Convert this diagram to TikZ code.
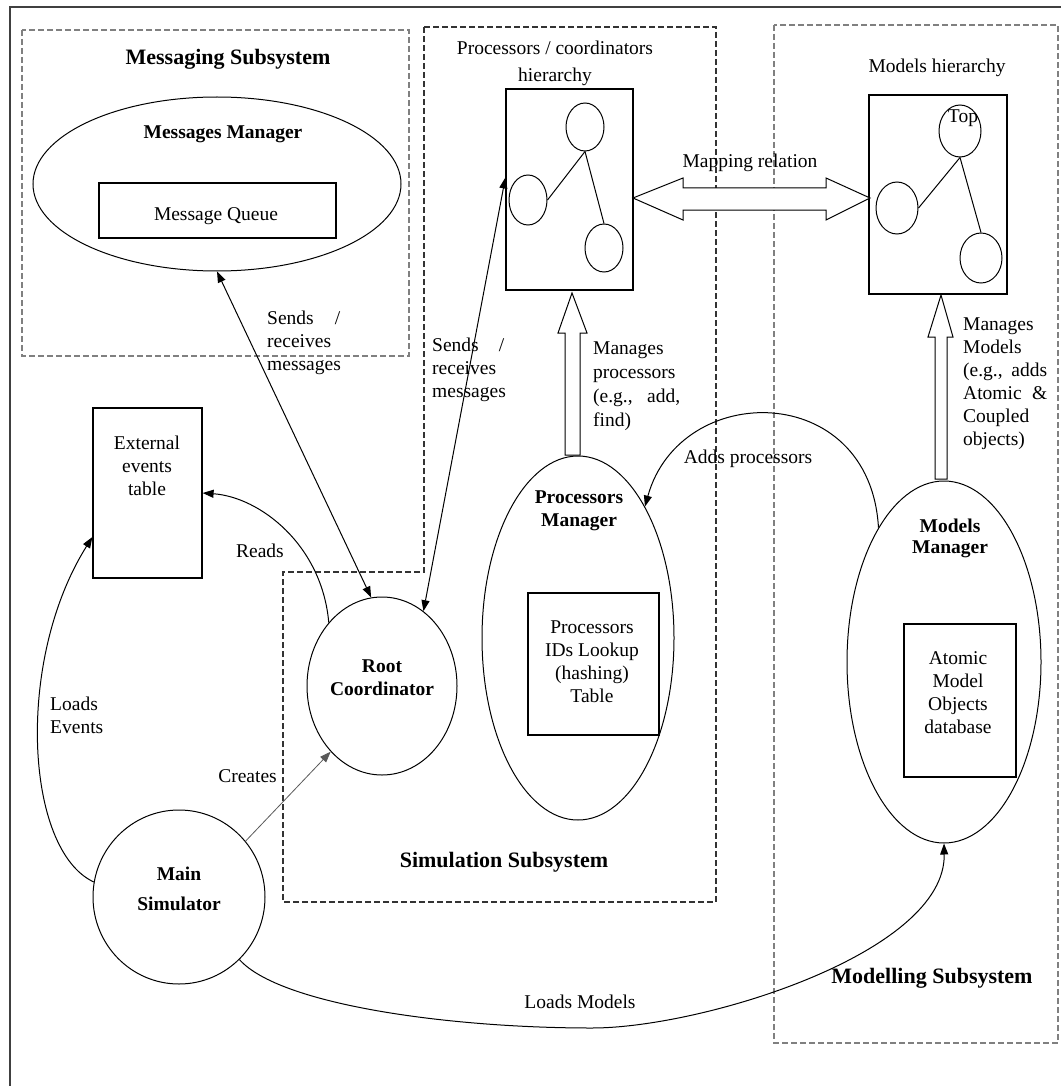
\documentclass[tikz,border=0pt]{standalone}
\usepackage{fontspec}
\setmainfont{Liberation Serif}
\usetikzlibrary{arrows.meta,shapes.geometric,calc}

\begin{document}
\begin{tikzpicture}[x=1pt,y=-1pt,
  txt/.style={font=\fontsize{19.5}{23}\selectfont, inner sep=0pt, align=center},
  btxt/.style={font=\fontsize{19.5}{23}\selectfont\bfseries, inner sep=0pt, align=center},
  subtitle/.style={font=\fontsize{22}{26}\selectfont\bfseries, inner sep=0pt},
  oval/.style={ellipse, draw, line width=1pt, inner sep=0pt},
  box/.style={rectangle, draw, line width=1.2pt, inner sep=0pt},
  subsys/.style={dash pattern=on 6pt off 3pt, line width=1.6pt, draw=gray},
  conn/.style={line width=1pt, -{Triangle[length=11pt,width=8pt]}},
  twoway/.style={line width=1pt, {Triangle[length=11pt,width=8pt]}-{Triangle[length=11pt,width=8pt]}},
  hollow/.style={draw, line width=1pt, fill=white},
]
\useasboundingbox (0,0) rectangle (1061,1086);

% outer frame
\draw[line width=2pt, black!75] (10,1086) -- (10,7) -- (1061,7);

% subsystem boundaries
\draw[subsys] (22,30) rectangle (409,356);
\draw[subsys, draw=black!80] (424,27) -- (716,27) -- (716,902) -- (283,902) -- (283,572) -- (424,572) -- cycle;
\draw[subsys] (774,25) rectangle (1058,1043);

\node[subtitle] (tmsg) at (228,59) {Messaging Subsystem};
\node[subtitle] (tsim) at (504,862) {Simulation Subsystem};
\node[subtitle] (tmod) at (932,978) {Modelling Subsystem};

% messaging subsystem
\node[oval, minimum width=368pt, minimum height=174pt] (msgmgr) at (217,184) {};
\node[btxt] (lmsgmgr) at (223,134) {Messages Manager};
\node[box, minimum width=237pt, minimum height=55pt] (msgq) at (217.5,210.5) {};
\node[txt] (lmsgq) at (216,216) {Message Queue};

% processors hierarchy
\node[txt] (lprochier) at (555,63) {Processors / coordinators\\[4pt]hierarchy};
\node[box, minimum width=127pt, minimum height=201pt] (prochier) at (569.5,189.5) {};
\node[oval, minimum width=38pt, minimum height=48pt] (pt) at (585,127) {};
\node[oval, minimum width=38pt, minimum height=50pt] (pl) at (528,200) {};
\node[oval, minimum width=38pt, minimum height=48pt] (pr) at (604,248) {};
\draw[line width=1pt] (pt.south) -- (pl.east);
\draw[line width=1pt] (pt.south) -- (pr.north);

% models hierarchy
\node[txt] (lmodhier) at (937,68) {Models hierarchy};
\node[box, minimum width=138pt, minimum height=199pt] (modhier) at (938,194.5) {};
\node[oval, minimum width=42pt, minimum height=52pt] (mt) at (960,131) {};
\node[oval, minimum width=42pt, minimum height=52pt] (ml) at (897,208) {};
\node[oval, minimum width=42pt, minimum height=50pt] (mr) at (981,258) {};
\node[txt] (ltop) at (963,118) {Top};
\draw[line width=1pt] (mt.south) -- (ml.east);
\draw[line width=1pt] (mt.south) -- (mr.north);

% mapping relation (hollow double arrow)
\draw[hollow] (633,198) -- (683,178) -- (683,188) -- (826,188) -- (826,178) -- (870,198)
  -- (826,220) -- (826,210) -- (683,210) -- (683,220) -- cycle;
\node[txt] (lmap) at (750,163) {Mapping relation};

% external events table
\node[box, minimum width=109pt, minimum height=170pt] (ext) at (147.5,493) {};
\node[txt] (lext) at (147,466) {External\\events\\table};

% root coordinator and main simulator
\node[oval, minimum width=150pt, minimum height=178pt] (root) at (382,686) {};
\node[btxt] (lroot) at (382,677.5) {Root\\Coordinator};
\node[oval, minimum width=172pt, minimum height=174pt] (mainsim) at (179,897) {};
\node[btxt] (lmainsim) at (179,889) {Main\\[7pt]Simulator};

% processors manager
\node[oval, minimum width=192pt, minimum height=364pt] (procmgr) at (578,638) {};
\node[btxt] (lprocmgr) at (579,510.5) {Processors\\Manager};
\node[box, minimum width=131pt, minimum height=142pt] (lookup) at (593.5,664) {};
\node[txt] (llookup) at (592,662) {Processors\\IDs Lookup\\(hashing)\\Table};

% models manager
\node[oval, minimum width=194pt, minimum height=362pt] (modmgr) at (944,662) {};
\node[btxt] (lmodmgr) at (950,538.5) {Models\\[-2pt]Manager};
\node[box, minimum width=112pt, minimum height=153pt] (atomic) at (960,700.5) {};
\node[txt] (latomic) at (958,693) {Atomic\\Model\\Objects\\database};

% hollow "manages" arrows
\draw[hollow] (572,293) -- (587,333) -- (580,333) -- (580,455) -- (565,455) -- (565,333) -- (558,333) -- cycle;
\draw[hollow] (941,295) -- (953,337) -- (947,337) -- (947,479) -- (935,479) -- (935,337) -- (928,337) -- cycle;
\node[txt, anchor=west, align=left] (lmanproc) at (593,386)
  {Manages\\[1pt]processors\\[1pt]\hbox to 87pt{(e.g.,\hfill add,}\\[1pt]find)};
\node[txt, anchor=west, align=left] (lmanmod) at (963,384)
  {Manages\\Models\\\hbox to 84pt{(e.g.,\hfill adds}\\\hbox to 84pt{Atomic\hfill \&}\\Coupled\\objects)};

% message exchanges
\draw[twoway] (msgmgr.south) -- (root.97);
\node[txt, anchor=west, align=left] (lsend1) at (267,343) {\hbox to 73pt{Sends\hfill/}\\receives\\messages};
\draw[twoway] ([yshift=12pt]prochier.west) -- (root.61);
\node[txt, anchor=west, align=left] (lsend2) at (432,370) {\hbox to 72pt{Sends\hfill/}\\receives\\messages};

% reads / loads / creates
\draw[conn] (root.130) .. controls (322,545) and (260,497) .. (ext.east);
\node[txt] (lreads) at (260,551) {Reads};
\draw[conn] (mainsim.170) .. controls (25,850) and (15,660) .. ([yshift=-44pt]ext.west);
\node[txt, anchor=west, align=left] (lloadev) at (50,715) {Loads\\Events};
\draw[conn, line width=0.8pt, draw=black!65] (mainsim.40) -- (root.232);
\node[txt, anchor=east] (lcreates) at (277,776) {Creates};

\draw[conn] (mainsim.-46) .. controls (280,1005) and (450,1028) .. (592,1028)
  .. controls (702,1028) and (946,953) .. (modmgr.south);
\node[txt] (lloadmod) at (580,1002) {Loads Models};

\draw[conn] (modmgr.116.6) .. controls (870,380) and (680,380) .. (procmgr.63.6);
\node[txt] (ladds) at (748,459) {Adds processors};

\end{tikzpicture}
\end{document}
